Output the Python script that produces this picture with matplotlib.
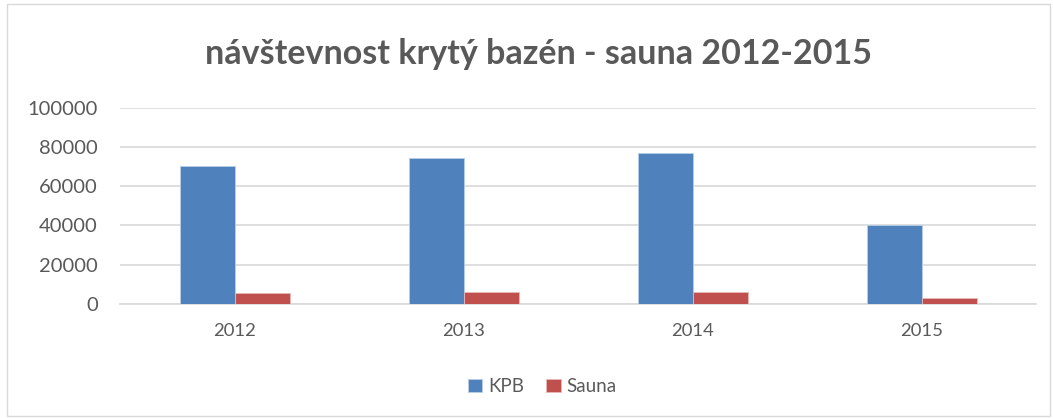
import matplotlib.pyplot as plt
import numpy as np
from matplotlib.patches import Rectangle

years = ['2012', '2013', '2014', '2015']
kpb = [70200, 74500, 77000, 40300]
sauna = [5600, 6300, 6100, 3100]

plt.rcParams['font.family'] = ['Lato', 'DejaVu Sans']

fig = plt.figure(figsize=(10.53, 4.18), dpi=100)
ax = fig.add_axes([0.114, 0.273, 0.870, 0.469])

x = np.arange(len(years))
w = 0.24
ax.bar(x - w / 2, kpb, w, color='#4F81BD', edgecolor='#B9CDE5', linewidth=0.6, label='KPB', zorder=3)
ax.bar(x + w / 2, sauna, w, color='#C0504D', edgecolor='#E6B9B8', linewidth=0.6, label='Sauna', zorder=3)

ax.set_xlim(-0.5, len(years) - 0.5)
ax.set_ylim(0, 100000)
ax.set_yticks(range(0, 100001, 20000))
ax.set_xticks(x)
ax.set_xticklabels(years)
ax.grid(axis='y', color='#D9D9D9', linewidth=1.2, zorder=0)
for s in ['top', 'right', 'left']:
    ax.spines[s].set_visible(False)
ax.spines['bottom'].set_color('#D9D9D9')
ax.spines['bottom'].set_linewidth(1.2)
ax.tick_params(length=0, colors='#595959')
ax.tick_params(axis='x', labelsize=13.3, pad=14)
ax.tick_params(axis='y', labelsize=14.5, pad=16)

fig.text(0.511, 0.872, 'návštevnost krytý bazén - sauna 2012-2015', ha='center', va='center',
         fontsize=24.5, fontweight='bold', color='#595959')

fig.legend(loc='center', bbox_to_anchor=(0.515, 0.075), ncol=2, frameon=False,
           fontsize=13.5, labelcolor='#595959', handlelength=0.75, handleheight=0.75,
           handletextpad=0.3, columnspacing=1.2)

fig.patches.append(Rectangle((0.007, 0.005), 0.99, 0.985, transform=fig.transFigure,
                             fill=False, edgecolor='#D9D9D9', linewidth=1))

fig.savefig('out.png', dpi=100)
